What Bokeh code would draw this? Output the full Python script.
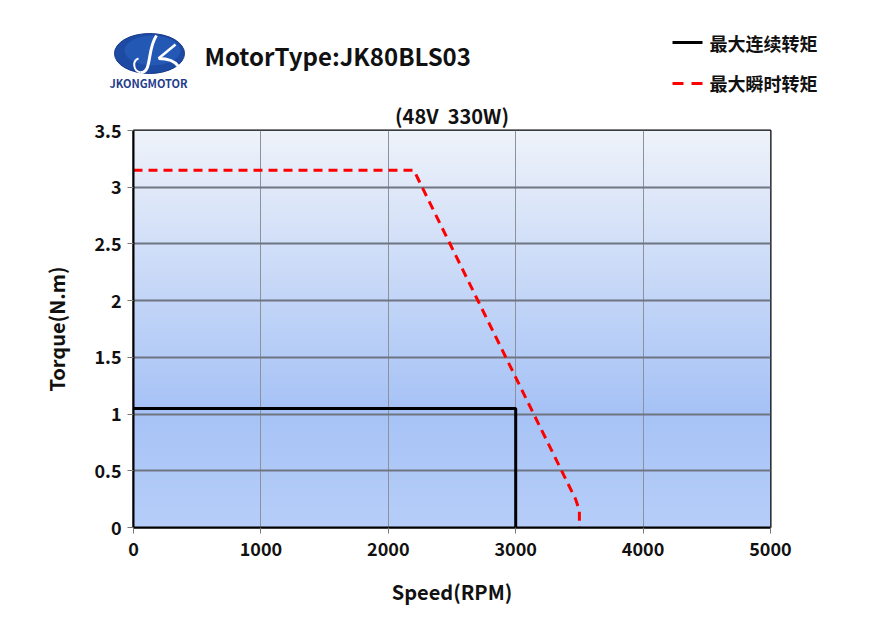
import numpy as np
from bokeh.plotting import figure
from bokeh.models import Range1d, FixedTicker
from bokeh.layouts import column, row
from bokeh.core.properties import value
from bokeh.embed import file_html
from bokeh.resources import INLINE

FONT = "Noto Sans CJK SC"

# ---- data ----
cont_speed = [0, 3000, 3000]
cont_torque = [1.05, 1.05, 0]
peak_speed = [0, 2200, 3470, 3500, 3500]
peak_torque = [3.15, 3.15, 0.25, 0.15, 0]
x_ticks = [0, 1000, 2000, 3000, 4000, 5000]
y_ticks = [0, 0.5, 1, 1.5, 2, 2.5, 3, 3.5]
y_tick_labels = ["0", "0.5", "1", "1.5", "2", "2.5", "3", "3.5"]
title_text = "MotorType:JK80BLS03"
subtitle_text = "(48V\u00a0\u00a0330W)"
legend_names = ["最大连续转矩", "最大瞬时转矩"]
x_label = "Speed(RPM)"
y_label = "Torque(N.m)"

# ---- header figure (pixel coordinates) ----
H = 97
h = figure(width=880, height=H, x_range=Range1d(0, 880), y_range=Range1d(H, 0),
           output_backend="svg", toolbar_location=None,
           min_border=0, min_border_left=0, min_border_right=0,
           min_border_top=0, min_border_bottom=0)
h.axis.visible = False
h.grid.visible = False
h.outline_line_color = None
h.background_fill_color = "white"
h.border_fill_color = "white"

# logo
h.ellipse(x=[149], y=[53], width=[70], height=[40], fill_color="#1d4aa3", line_color="#16388a", line_width=1)
h.ellipse(x=[152], y=[50], width=[56], height=[30], fill_color="#2a63c2", line_color=None, alpha=0.6)
h.bezier(x0=[156], y0=[35], x1=[140], y1=[72], cx0=[146], cy0=[50], cx1=[152], cy1=[72],
         line_color="white", line_width=3)
h.bezier(x0=[140], y0=[72], x1=[138], y1=[58], cx0=[132], cy0=[70], cx1=[132], cy1=[60],
         line_color="white", line_width=2)
h.line(x=[158, 175], y=[58, 44], line_color="white", line_width=2.5)
h.bezier(x0=[158], y0=[58], x1=[178], y1=[66], cx0=[166], cy0=[58], cx1=[174], cy1=[60],
         line_color="white", line_width=3)
h.text(x=[148], y=[82], text=["JKONGMOTOR"], text_font=value(FONT), text_font_style="bold",
       text_font_size="11px", text_color="#1f3c8c", text_align="center", text_baseline="middle")

# title
h.text(x=[204], y=[55], text=[title_text], text_font=value(FONT), text_font_style="bold",
       text_font_size="24px", text_color="#111111", text_align="left", text_baseline="middle")

# legend
h.line(x=[672, 702], y=[42, 42], line_color="black", line_width=3)
h.line(x=[672, 702], y=[83, 83], line_color="#ff0000", line_width=3, line_dash="11 8")
h.text(x=[709, 709], y=[42, 82], text=legend_names, text_font=value(FONT), text_font_style="bold",
       text_font_size="18px", text_color="#111111", text_align="left", text_baseline="middle")

# ---- main chart ----
p = figure(width=880, height=627 - H, x_range=Range1d(0, 5000), y_range=Range1d(0, 3.5),
           output_backend="svg", toolbar_location=None,
           min_border_left=133, min_border_right=110, min_border_top=129 - H, min_border_bottom=100)
p.background_fill_color = "white"
p.border_fill_color = "white"
p.title.text = subtitle_text
p.title.align = "center"
p.title.text_font = FONT
p.title.text_font_style = "bold"
p.title.text_font_size = "20px"
p.title.text_color = "#111111"
p.title.standoff = 2

# gradient background
N = 400
t = np.linspace(0, 1, N)  # 0 bottom, 1 top
stops_t = [0.0, 0.3, 1.0]
stops_c = [np.array([0xb6, 0xce, 0xf9]), np.array([0xa7, 0xc3, 0xf6]), np.array([0xef, 0xf3, 0xfa])]
cols = np.zeros((N, 3))
for k in range(3):
    cols[:, k] = np.interp(t, stops_t, [c[k] for c in stops_c])
img = np.zeros((N, 2), dtype=np.uint32)
view = img.view(dtype=np.uint8).reshape((N, 2, 4))
for j in range(2):
    view[:, j, 0] = cols[:, 0].astype(np.uint8)
    view[:, j, 1] = cols[:, 1].astype(np.uint8)
    view[:, j, 2] = cols[:, 2].astype(np.uint8)
    view[:, j, 3] = 255
p.image_rgba(image=[img], x=0, y=0, dw=5000, dh=3.5, level="image")

p.xgrid.grid_line_color = "#8c919a"
p.xgrid.grid_line_width = 1
p.ygrid.grid_line_color = "#6f7581"
p.ygrid.grid_line_width = 2
p.grid.level = "underlay"
p.xgrid.ticker = FixedTicker(ticks=x_ticks)
p.ygrid.ticker = FixedTicker(ticks=y_ticks)

p.line(cont_speed, cont_torque, line_color="black", line_width=3)
p.line(peak_speed, peak_torque, line_color="#ff0000", line_width=3, line_dash="9 6")

p.outline_line_color = "black"
p.outline_line_width = 2
p.outline_line_alpha = 1

p.xaxis.ticker = FixedTicker(ticks=x_ticks)
p.yaxis.ticker = FixedTicker(ticks=y_ticks)
p.yaxis.major_label_overrides = {v: s for v, s in zip(y_ticks, y_tick_labels)}
for ax in (p.xaxis[0], p.yaxis[0]):
    ax.axis_line_color = "black"
    ax.axis_line_width = 2
    ax.major_tick_line_color = "#777777"
    ax.major_tick_out = 6
    ax.major_tick_in = 0
    ax.minor_tick_line_color = None
    ax.major_label_text_font = FONT
    ax.major_label_text_font_style = "bold"
    ax.major_label_text_font_size = "18px"
    ax.major_label_text_color = "#111111"
    ax.axis_label_text_font = FONT
    ax.axis_label_text_font_style = "bold"
    ax.axis_label_text_font_size = "20px"
    ax.axis_label_text_color = "#111111"
p.xaxis.axis_label = x_label
p.yaxis.axis_label = y_label
p.xaxis.major_label_standoff = 8
p.xaxis.axis_label_standoff = 18
p.yaxis.major_label_standoff = 6
p.yaxis.axis_label_standoff = 20

layout = column(row(h), row(p), spacing=0)
open("out.html", "w").write(file_html(layout, INLINE))
